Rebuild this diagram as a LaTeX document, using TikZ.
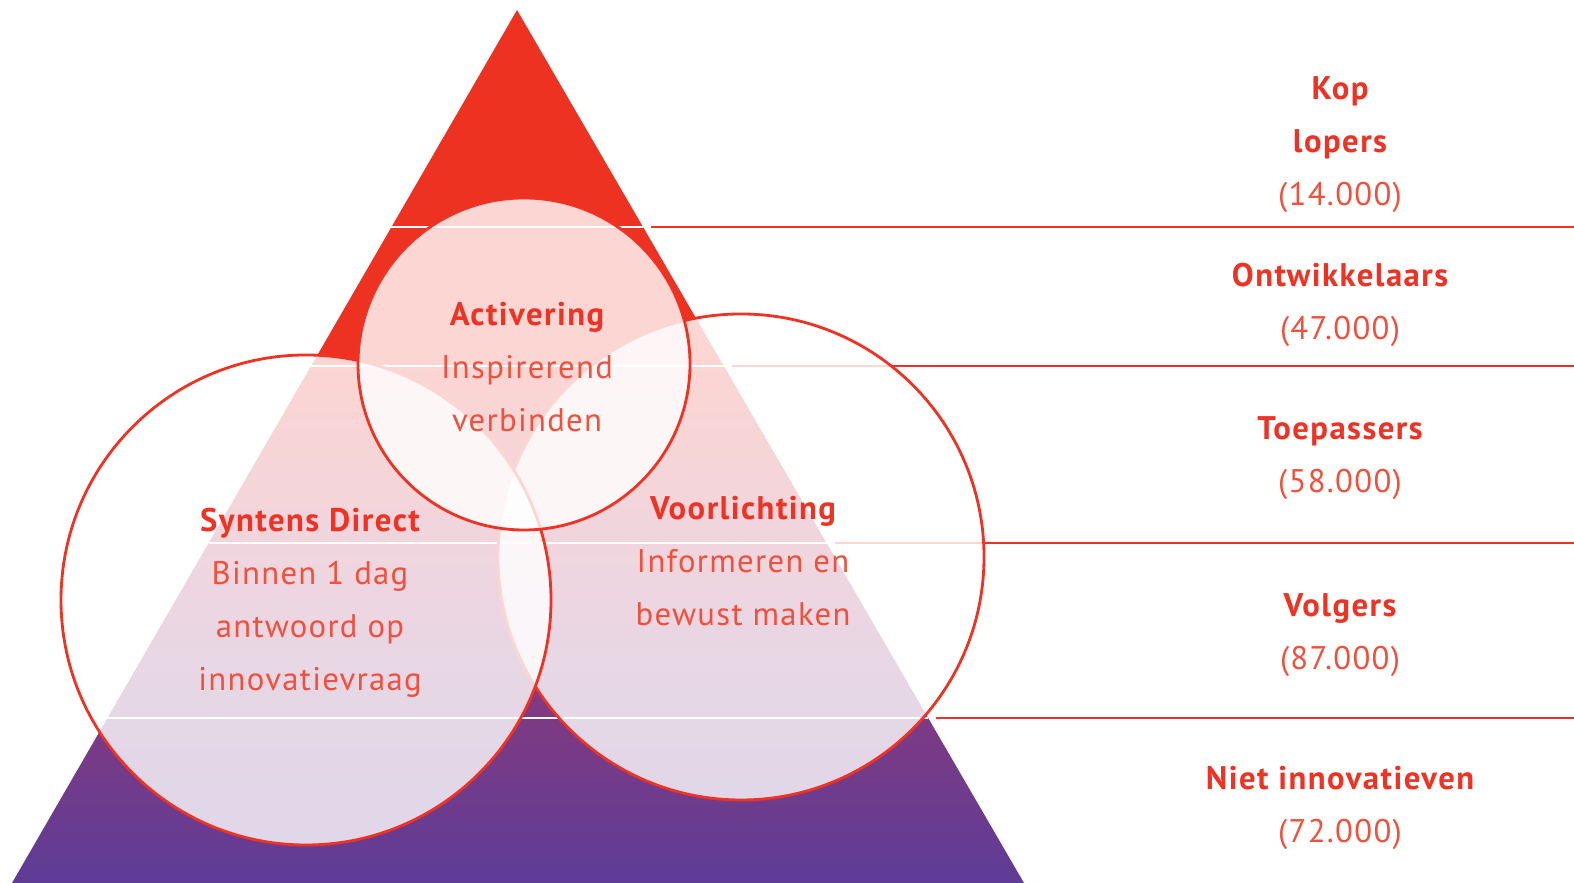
\documentclass[tikz,border=0pt]{standalone}
\usepackage{fontspec}
\setmainfont{PT Sans}
\usetikzlibrary{calc}
\definecolor{kopred}{RGB}{238,50,36}
\definecolor{txtred}{RGB}{240,80,60}
\definecolor{pyrred}{RGB}{238,50,34}
\definecolor{pyrcrimson}{RGB}{210,45,62}
\definecolor{pyrmagenta}{RGB}{162,52,110}
\definecolor{pyrplum}{RGB}{125,58,132}
\definecolor{pyrpurple}{RGB}{95,60,150}
\pgfdeclareverticalshading{pyramid}{100bp}{color(0bp)=(pyrpurple); color(25bp)=(pyrpurple); color(34.5bp)=(pyrplum); color(41.2bp)=(pyrmagenta); color(49bp)=(pyrcrimson); color(55bp)=(pyrred); color(75bp)=(pyrred); color(100bp)=(pyrred)}
\tikzset{band/.style = {white, line width=0.6pt}}
\tikzset{level/.style = {kopred, line width=0.8pt}}
\tikzset{ring/.style = {draw=kopred, line width=0.8pt, fill=white, fill opacity=0.8}}
\tikzset{label/.style = {text=txtred, align=center, font=\fontsize{9.3pt}{15.1pt}\selectfont\addfontfeatures{LetterSpace=4}}}
\newcommand{\kop}[1]{{\color{kopred}\bfseries\addfontfeatures{LetterSpace=4.5}#1}}

\begin{document}
\begin{tikzpicture}[x=0.01cm, y=0.01cm]
		\useasboundingbox (0,0) rectangle (1574,883);
		
		% Pyramid
		\coordinate (apex) at (517,873);
		\coordinate (bl) at (12,0);
		\coordinate (br) at (1024,0);
		\coordinate (edge) at (1574,0);
		\shade[shading=pyramid] (apex) -- (bl) -- (br) -- cycle;
		
		% Levels
		\foreach \t in {0.2486, 0.4078, 0.6105, 0.8110} {
			\draw[band] ($(apex)!\t!(bl)$) -- ($(apex)!\t!(br)$);
			\draw[level] ($(apex)!\t!(br)+(8,0)$) coordinate (r) -- (r -| edge);
		}
		
		% Circles
		\draw[ring] (741,326) circle (243);
		\draw[ring] (306,283) circle (245);
		\draw[ring] (524,519) circle (166);
		
		% Circle texts
		\node[label] (activering) at (527,516) {\kop{Activering}\\Inspirerend\\verbinden};
		\node[label] (syntens) at (310,280) {\kop{Syntens Direct}\\Binnen 1 dag\\antwoord op\\innovatievraag};
		\node[label] (voorlichting) at (743,322) {\kop{Voorlichting}\\Informeren en\\bewust maken};
		
		% Level texts
		\node[label] (koplopers) at (1340,738) {\kop{Kop}\\\kop{lopers}\\(14.000)};
		\node[label] (ontwikkelaars) at (1340,578) {\kop{Ontwikkelaars}\\(47.000)};
		\node[label] (toepassers) at (1340,425) {\kop{Toepassers}\\(58.000)};
		\node[label] (volgers) at (1340,248) {\kop{Volgers}\\(87.000)};
		\node[label] (niet) at (1340,75) {\kop{Niet innovatieven}\\(72.000)};
	\end{tikzpicture}
\end{document}
